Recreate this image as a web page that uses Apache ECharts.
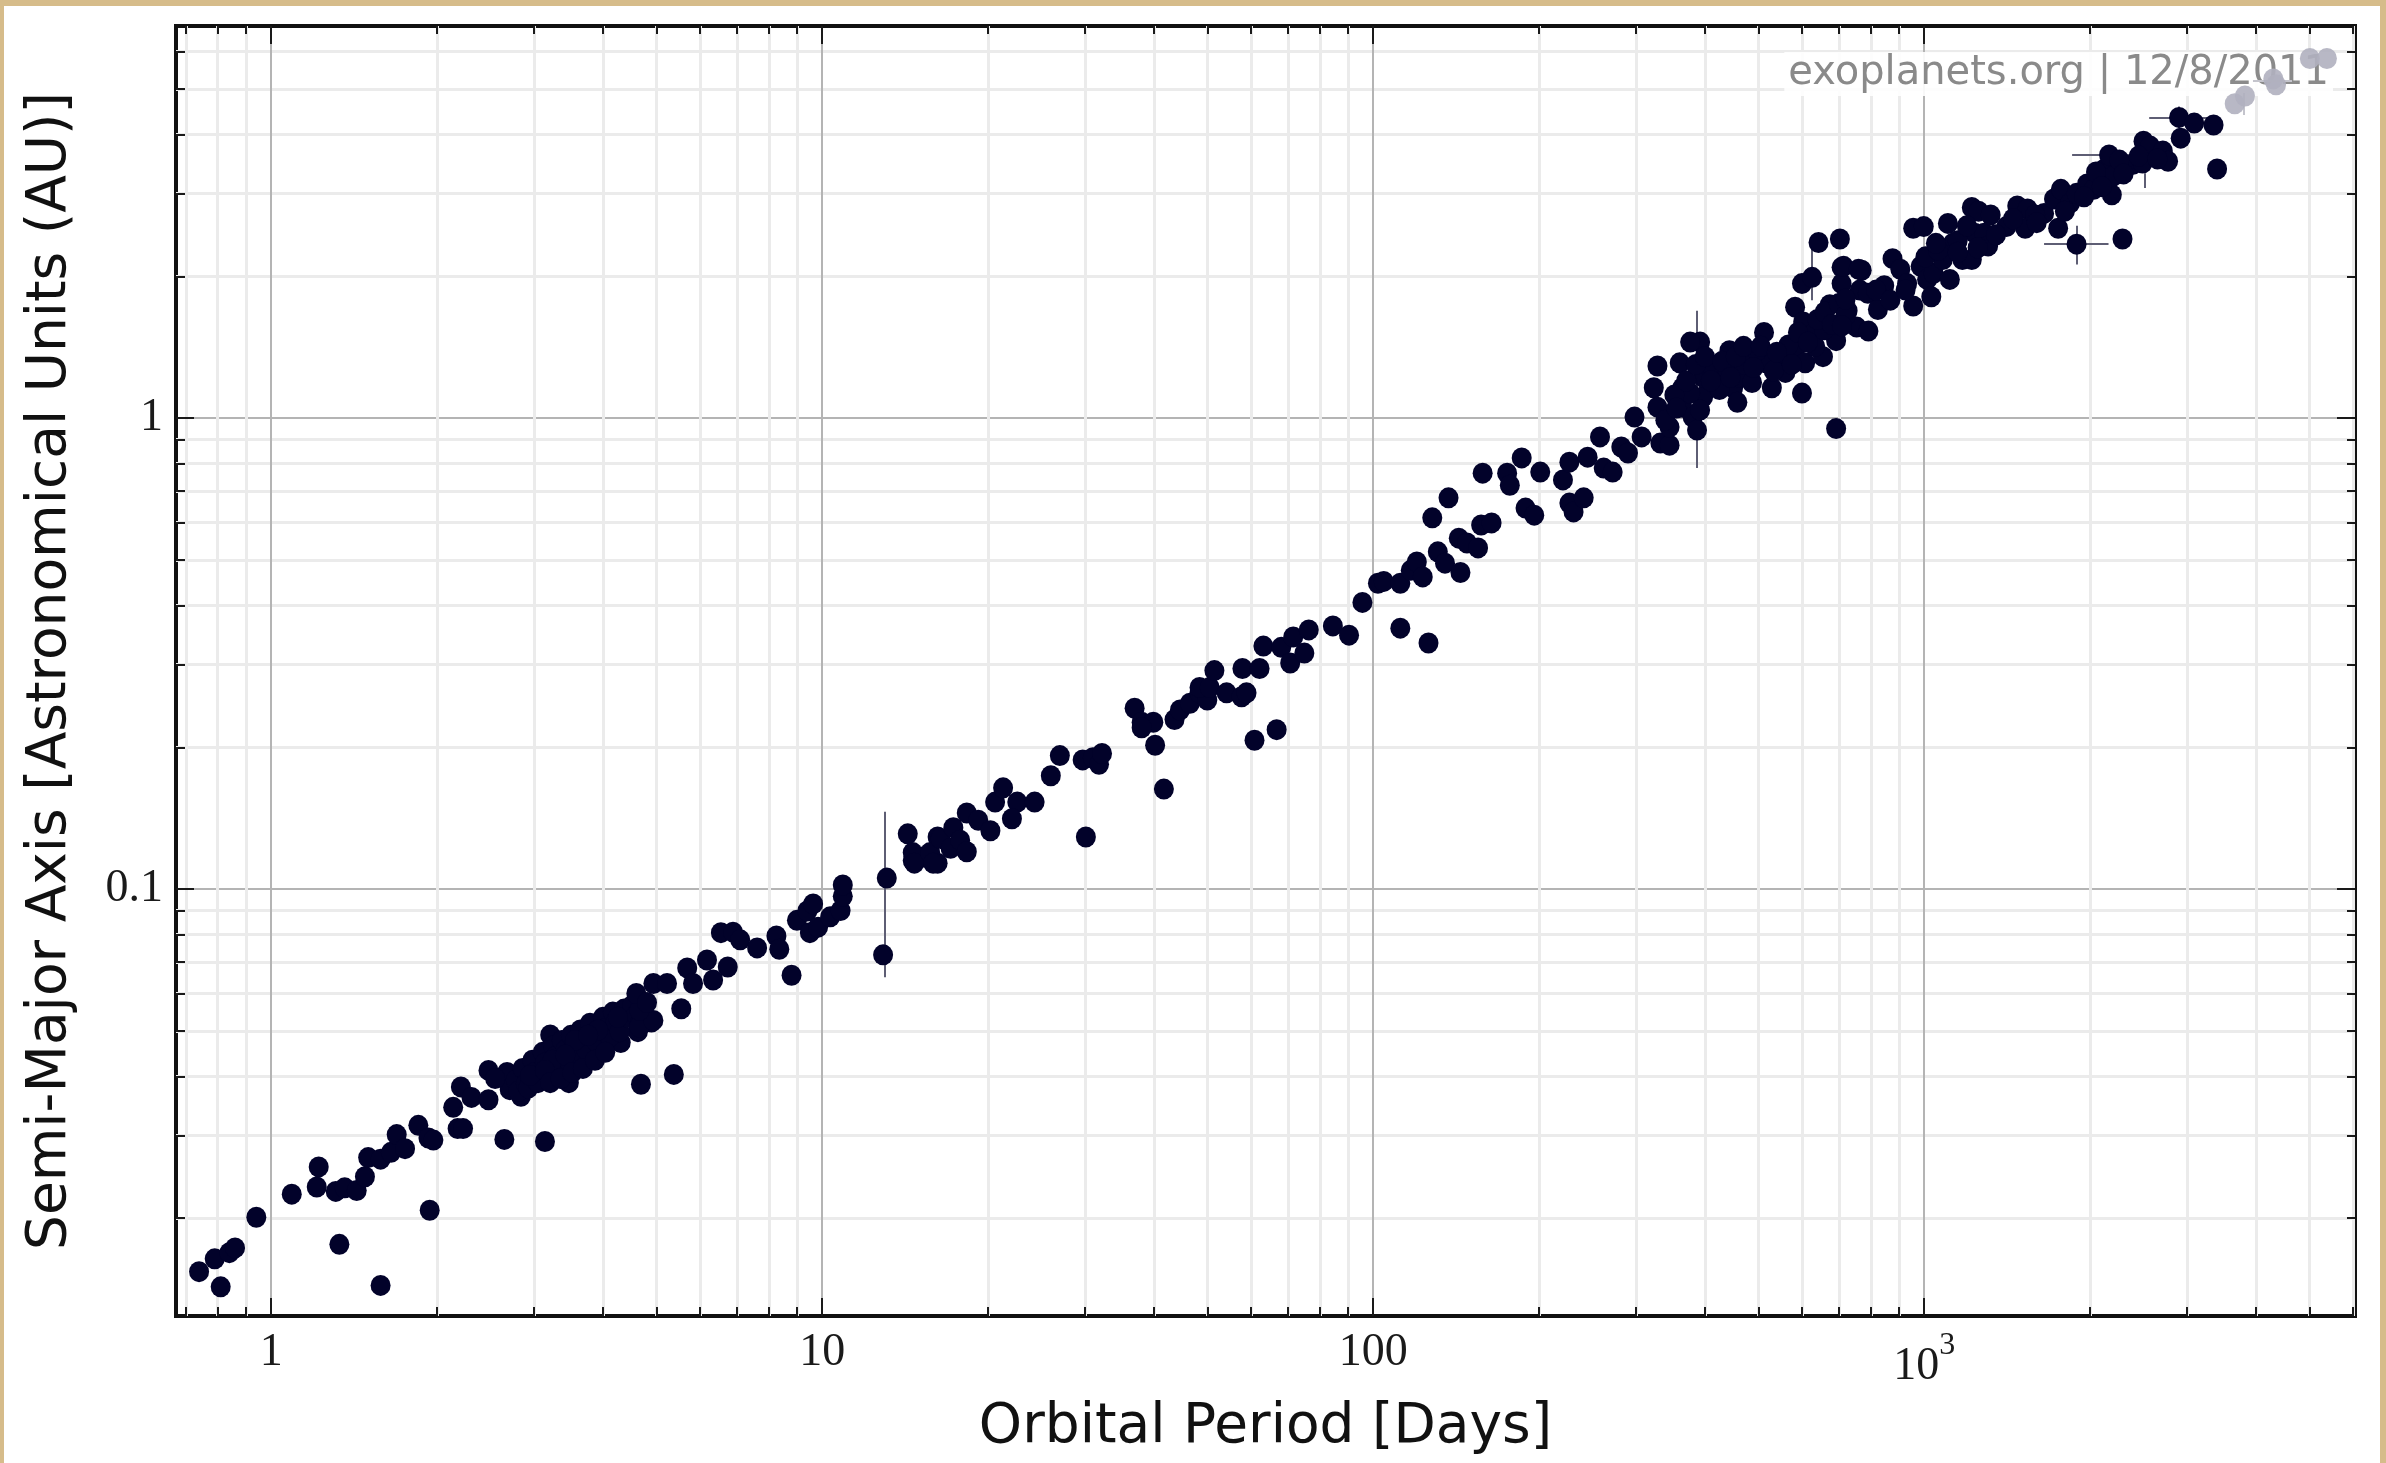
<!DOCTYPE html>
<html>
<head>
<meta charset="utf-8">
<script src="https://cdn.jsdelivr.net/npm/echarts@6/dist/echarts.min.js"></script>
<style>
html,body{margin:0;padding:0;background:#d6bc8a;overflow:hidden;}
#c{position:absolute;left:0;top:0;width:2386px;height:1463px;}
</style>
</head>
<body>
<div id="c"></div>
<script>
// ---- Data ----
// Orbital period [days] and semi-major axis [AU] of each planet (dark points)
const periodDays = [
0.74,0.81,0.79,0.84,0.86,0.94,1.09,1.22,1.21,1.31,1.36,1.43,1.33,1.58,1.48,1.50,1.58,1.65,1.69,1.75,1.85,1.93,1.97,1.94,2.14,2.21,2.18,2.23,2.31,2.48,2.48,2.65,3.14,2.72,2.84,4.69,5.38,5.55,4.31,4.63,4.90,3.47,3.21,
2.68,2.71,2.78,2.81,2.86,2.90,2.93,2.98,3.01,3.05,3.11,3.14,3.19,3.21,3.25,3.29,3.33,3.37,3.42,3.46,3.50,3.55,3.59,3.64,3.68,3.73,3.79,3.84,3.89,4.00,4.06,4.12,4.17,4.22,4.29,4.37,4.44,4.52,4.60,4.67,2.95,3.24,3.56,3.92,4.26,3.14,3.42,3.76,3.21,3.35,3.52,3.68,3.87,4.04,2.55,
4.66,4.94,4.66,4.60,4.94,5.23,4.81,5.69,5.83,6.18,6.34,6.74,6.55,6.89,7.10,7.62,8.26,8.36,8.80,9.00,9.40,9.63,9.50,9.83,10.34,10.8,10.9,10.9,13.1,12.9,14.3,14.6,15.2,16.2,16.2,
14.6,14.7,15.7,15.9,16.4,17.1,17.3,17.8,18.3,18.3,19.2,20.2,20.6,21.3,22.6,22.1,24.3,26.0,27.0,30.1,29.7,31.0,31.8,32.2,36.9,38.0,39.9,38.0,40.2,41.7,43.6,44.6,46.5,48.4,50.0,48.4,50.5,51.5,54.2,57.7,58.9,57.9,62.2,60.9,66.8,63.2,68.1,70.7,71.6,75.0,76.4,84.5,90.4,95.6,102,
112,126,104.5,112,117,120,123,128,131,135,137,144,143,148,155,157,164,158,175,177,186,201,189,196,221,227,227,231,241,245,258,262,272,282,290,298,307,328,323,328,332,345,360,345,364,380,387,392,376,397,364,376,397,420,443,438,450,463,458,481,487,512,517,529,551,560,583,600,608,583,600,626,603,629,655,674,692,692,708,708,726,754,770,764,643,409,425,471,497,533,567,392,352,339,634,658,
370,385,400,410,430,445,455,470,490,505,540,575,590,615,640,660,680,700,720,355,
703,714,720,709,760,790,792,824,846,876,905,931,955,955,998,985,1012,1030,1040,1081,1104,1113,1127,1173,1220,1255,1220,1235,1285,1306,1410,1475,1540,1525,1650,1720,1750,1770,1840,1890,1890,1975,2030,2125,2165,2190,2200,2290,2395,2500,2490,2570,2710,2770,2920,2900,3090,3350,3400,818,868,925,1005,1060,1150,1195,1320,1590,2050,2260,
1050,1150,1250,1350,1450,1600,1800,1950,2100,2300,2450,2650
];
const semiMajorAU = [
0.0154,0.0143,0.0164,0.0169,0.0173,0.0201,0.0225,0.0257,0.0233,0.0228,0.0232,0.0229,0.0176,0.0144,0.0245,0.0269,0.0267,0.0276,0.0301,0.0281,0.0315,0.0296,0.0293,0.0208,0.0344,0.0380,0.0310,0.0310,0.0361,0.0412,0.0357,0.0294,0.0291,0.0392,0.0363,0.0385,0.0404,0.0557,0.0472,0.0498,0.0522,0.0388,0.0490,
0.0408,0.0375,0.0393,0.0372,0.0416,0.0386,0.0378,0.0433,0.0408,0.0388,0.0450,0.0427,0.0408,0.0402,0.0464,0.0442,0.0420,0.0477,0.0455,0.0433,0.0489,0.0466,0.0446,0.0502,0.0477,0.0457,0.0519,0.0493,0.0475,0.0534,0.0507,0.0486,0.0548,0.0522,0.0498,0.0556,0.0534,0.0566,0.0541,0.0519,0.0402,0.0433,0.0477,0.0502,0.0534,0.0412,0.0444,0.0489,0.0388,0.0396,0.0408,0.0416,0.0433,0.0450,0.0396,
0.0510,0.0526,0.0553,0.0600,0.0630,0.0630,0.0574,0.0680,0.0630,0.0707,0.0641,0.0683,0.0808,0.0810,0.0780,0.0750,0.0795,0.0745,0.0656,0.0858,0.0898,0.0930,0.0808,0.0830,0.0873,0.0900,0.0965,0.1020,0.1055,0.0725,0.131,0.115,0.117,0.1135,0.129,
0.1195,0.1135,0.1195,0.1135,0.128,0.122,0.135,0.127,0.120,0.145,0.140,0.133,0.153,0.164,0.153,0.141,0.153,0.174,0.192,0.129,0.188,0.190,0.184,0.194,0.242,0.226,0.226,0.220,0.202,0.163,0.229,0.240,0.248,0.261,0.252,0.268,0.268,0.291,0.261,0.256,0.261,0.294,0.294,0.207,0.218,0.328,0.326,0.302,0.343,0.317,0.355,0.362,0.346,0.406,0.446,
0.358,0.333,0.450,0.446,0.475,0.495,0.460,0.614,0.520,0.492,0.677,0.470,0.556,0.543,0.530,0.593,0.599,0.764,0.764,0.720,0.823,0.768,0.644,0.622,0.739,0.806,0.660,0.632,0.677,0.826,0.912,0.783,0.768,0.868,0.843,1.005,0.912,1.29,1.16,1.055,0.885,0.876,1.31,0.957,1.055,1.005,0.943,1.45,1.45,1.11,1.16,1.13,1.22,1.25,1.39,1.28,1.16,1.22,1.08,1.35,1.19,1.52,1.31,1.16,1.33,1.25,1.39,1.13,1.31,1.72,1.93,1.99,1.60,1.51,1.35,1.74,1.46,0.95,2.09,1.93,1.69,1.56,2.06,1.87,2.36,1.30,1.15,1.30,1.39,1.26,1.43,1.04,1.12,0.99,1.42,1.54,
1.20,1.30,1.35,1.20,1.32,1.22,1.35,1.42,1.28,1.42,1.38,1.30,1.52,1.45,1.62,1.68,1.58,1.75,1.65,1.05,
2.40,2.10,1.79,1.57,2.07,1.84,1.53,1.70,1.91,2.18,2.07,1.93,1.73,2.53,2.55,2.10,1.97,1.81,2.03,2.17,2.59,1.97,2.35,2.17,2.80,2.75,2.17,2.47,2.47,2.32,2.55,2.82,2.78,2.53,2.72,2.92,2.53,3.06,2.86,2.34,3.00,3.14,3.06,3.38,3.62,2.98,3.26,2.40,3.46,3.87,3.48,3.78,3.69,3.51,3.93,4.35,4.23,4.19,3.38,1.87,1.78,1.87,2.20,2.27,2.38,2.56,2.70,2.70,3.33,3.53,
2.35,2.25,2.30,2.45,2.65,2.60,2.75,2.95,3.10,3.30,3.60,3.55
];
// Faint (grey) planets at the top right
const greyPeriodDays = [3660, 3820, 4300, 4350, 5010, 5380];
const greySemiMajorAU = [4.65, 4.83, 5.25, 5.10, 5.80, 5.80];
// Error bars: [period1, a1, period2, a2]
const errorBars = [
  [13.0, 0.146, 13.0, 0.065],
  [387, 1.69, 387, 0.783],
  [626, 2.39, 626, 1.78],
  [1650, 2.34, 2160, 2.34],
  [1890, 2.56, 1890, 2.12],
  [1855, 3.62, 2490, 3.62],
  [2560, 4.35, 3290, 4.35],
  [2900, 4.59, 2900, 4.12],
  [2510, 3.31, 2510, 3.08]
];
const greyErrorBars = [
  [3950, 5.2, 4650, 5.2],
  [3800, 4.9, 3800, 4.4]
];
// Axis ranges and ticks
const xRange = [0.672, 6050];
const yRange = [0.0124, 6.8];
const xMajorTicks = [1, 10, 100, 1000];
const xTickLabels = ['1', '10', '100', '{b|10}{sup|3}'];
const xMinorTicks = [0.7, 0.8, 0.9, 2, 3, 4, 5, 6, 7, 8, 9, 20, 30, 40, 50, 60, 70, 80, 90, 200, 300, 400, 500, 600, 700, 800, 900, 2000, 3000, 4000, 5000, 6000];
const yMajorTicks = [0.1, 1];
const yTickLabels = ['0.1', '1'];
const yMinorTicks = [0.02, 0.03, 0.04, 0.05, 0.06, 0.07, 0.08, 0.09, 0.2, 0.3, 0.4, 0.5, 0.6, 0.7, 0.8, 0.9, 2, 3, 4, 5, 6];

// ---- Chart ----
const labelFor = (vals, labels) => v => {
  for (let i = 0; i < vals.length; i++) if (Math.abs(v / vals[i] - 1) < 1e-6) return labels[i];
  return '';
};
const TICK_COLOR = '#1a1a1a';
const MAJOR_GRID = '#b4b4b4';
const MINOR_GRID = '#ebebeb';

function baseAxis(range, extra) {
  return Object.assign({
    type: 'log', logBase: 10, min: range[0], max: range[1],
    axisLine: { show: false },
    axisTick: { show: false },
    axisLabel: { show: false },
    splitLine: { show: false },
    minorTick: { show: false },
    minorSplitLine: { show: false }
  }, extra);
}
function ticks(vals, len) {
  return { show: true, inside: true, length: len, customValues: vals, lineStyle: { color: TICK_COLOR, width: 2 } };
}

const chart = echarts.init(document.getElementById('c'), null, { renderer: 'canvas' });
const option = {
  animation: false,
  backgroundColor: '#d6bc8a',
  graphic: [
    { type: 'rect', z: -10, shape: { x: 4, y: 6, width: 2376, height: 1457 }, style: { fill: '#ffffff' } },
    { type: 'text', z: 1, x: 2333, y: 74,
      style: { text: 'exoplanets.org | 12/8/2011', font: '40px "DejaVu Sans"', fill: '#8a8a8a',
               align: 'right', verticalAlign: 'middle', backgroundColor: 'rgba(255,255,255,0.9)', padding: [2, 4] } }
  ],
  grid: { left: 176, top: 26, right: 31, bottom: 147, show: true, borderColor: '#111', borderWidth: 4, backgroundColor: 'transparent' },
  xAxis: [
    baseAxis(xRange, {
      position: 'bottom',
      axisTick: ticks(xMajorTicks, 18),
      axisLabel: { show: true, customValues: xMajorTicks, formatter: labelFor(xMajorTicks, xTickLabels),
        fontFamily: 'Liberation Serif', fontSize: 46, color: '#1a1a1a', margin: 14,
        rich: { b: { fontFamily: 'Liberation Serif', fontSize: 46, lineHeight: 60, verticalAlign: 'bottom', color: '#1a1a1a' },
                sup: { fontFamily: 'Liberation Serif', fontSize: 32, lineHeight: 34, verticalAlign: 'top', color: '#1a1a1a' } } },
      splitLine: { show: true, lineStyle: { color: MAJOR_GRID, width: 2 } },
      name: 'Orbital Period [Days]', nameLocation: 'middle', nameGap: 84,
      nameTextStyle: { fontFamily: 'DejaVu Sans', fontSize: 55, color: '#111' }
    }),
    baseAxis(xRange, { position: 'bottom', axisTick: ticks(xMinorTicks, 9),
      splitLine: { show: true, lineStyle: { color: MINOR_GRID, width: 3 } } }),
    baseAxis(xRange, { position: 'top', axisTick: ticks(xMajorTicks, 18) }),
    baseAxis(xRange, { position: 'top', axisTick: ticks(xMinorTicks, 8) })
  ],
  yAxis: [
    baseAxis(yRange, {
      position: 'left',
      axisTick: ticks(yMajorTicks, 18),
      axisLabel: { show: true, customValues: yMajorTicks, formatter: labelFor(yMajorTicks, yTickLabels),
        fontFamily: 'Liberation Serif', fontSize: 46, color: '#1a1a1a', margin: 13 },
      splitLine: { show: true, lineStyle: { color: MAJOR_GRID, width: 2 } },
      name: 'Semi-Major Axis [Astronomical Units (AU)]', nameLocation: 'middle', nameGap: 98,
      nameTextStyle: { fontFamily: 'DejaVu Sans', fontSize: 55, color: '#111' }
    }),
    baseAxis(yRange, { position: 'left', axisTick: ticks(yMinorTicks, 9),
      splitLine: { show: true, lineStyle: { color: MINOR_GRID, width: 3 } } }),
    baseAxis(yRange, { position: 'right', axisTick: ticks(yMajorTicks, 18) }),
    baseAxis(yRange, { position: 'right', axisTick: ticks(yMinorTicks, 8) })
  ],
  series: [
    { type: 'lines', coordinateSystem: 'cartesian2d', xAxisIndex: 0, yAxisIndex: 0, z: 2, silent: true,
      lineStyle: { color: '#c4c4cc', width: 2, opacity: 1 },
      data: greyErrorBars.map(e => ({ coords: [[e[0], e[1]], [e[2], e[3]]] })) },
    { type: 'scatter', xAxisIndex: 0, yAxisIndex: 0, z: 3, symbolSize: [20, 21], silent: true,
      itemStyle: { color: '#b0b0bf', opacity: 0.9 },
      data: greyPeriodDays.map((p, i) => [p, greySemiMajorAU[i]]) },
    { type: 'lines', coordinateSystem: 'cartesian2d', xAxisIndex: 0, yAxisIndex: 0, z: 3, silent: true,
      lineStyle: { color: '#5e5e74', width: 2, opacity: 1 },
      data: errorBars.map(e => ({ coords: [[e[0], e[1]], [e[2], e[3]]] })) },
    { type: 'scatter', xAxisIndex: 0, yAxisIndex: 0, z: 4, symbolSize: [20, 21], silent: true,
      itemStyle: { color: '#02022a', opacity: 1 },
      data: periodDays.map((p, i) => [p, semiMajorAU[i]]) }
  ]
};
chart.setOption(option);
</script>
</body>
</html>
